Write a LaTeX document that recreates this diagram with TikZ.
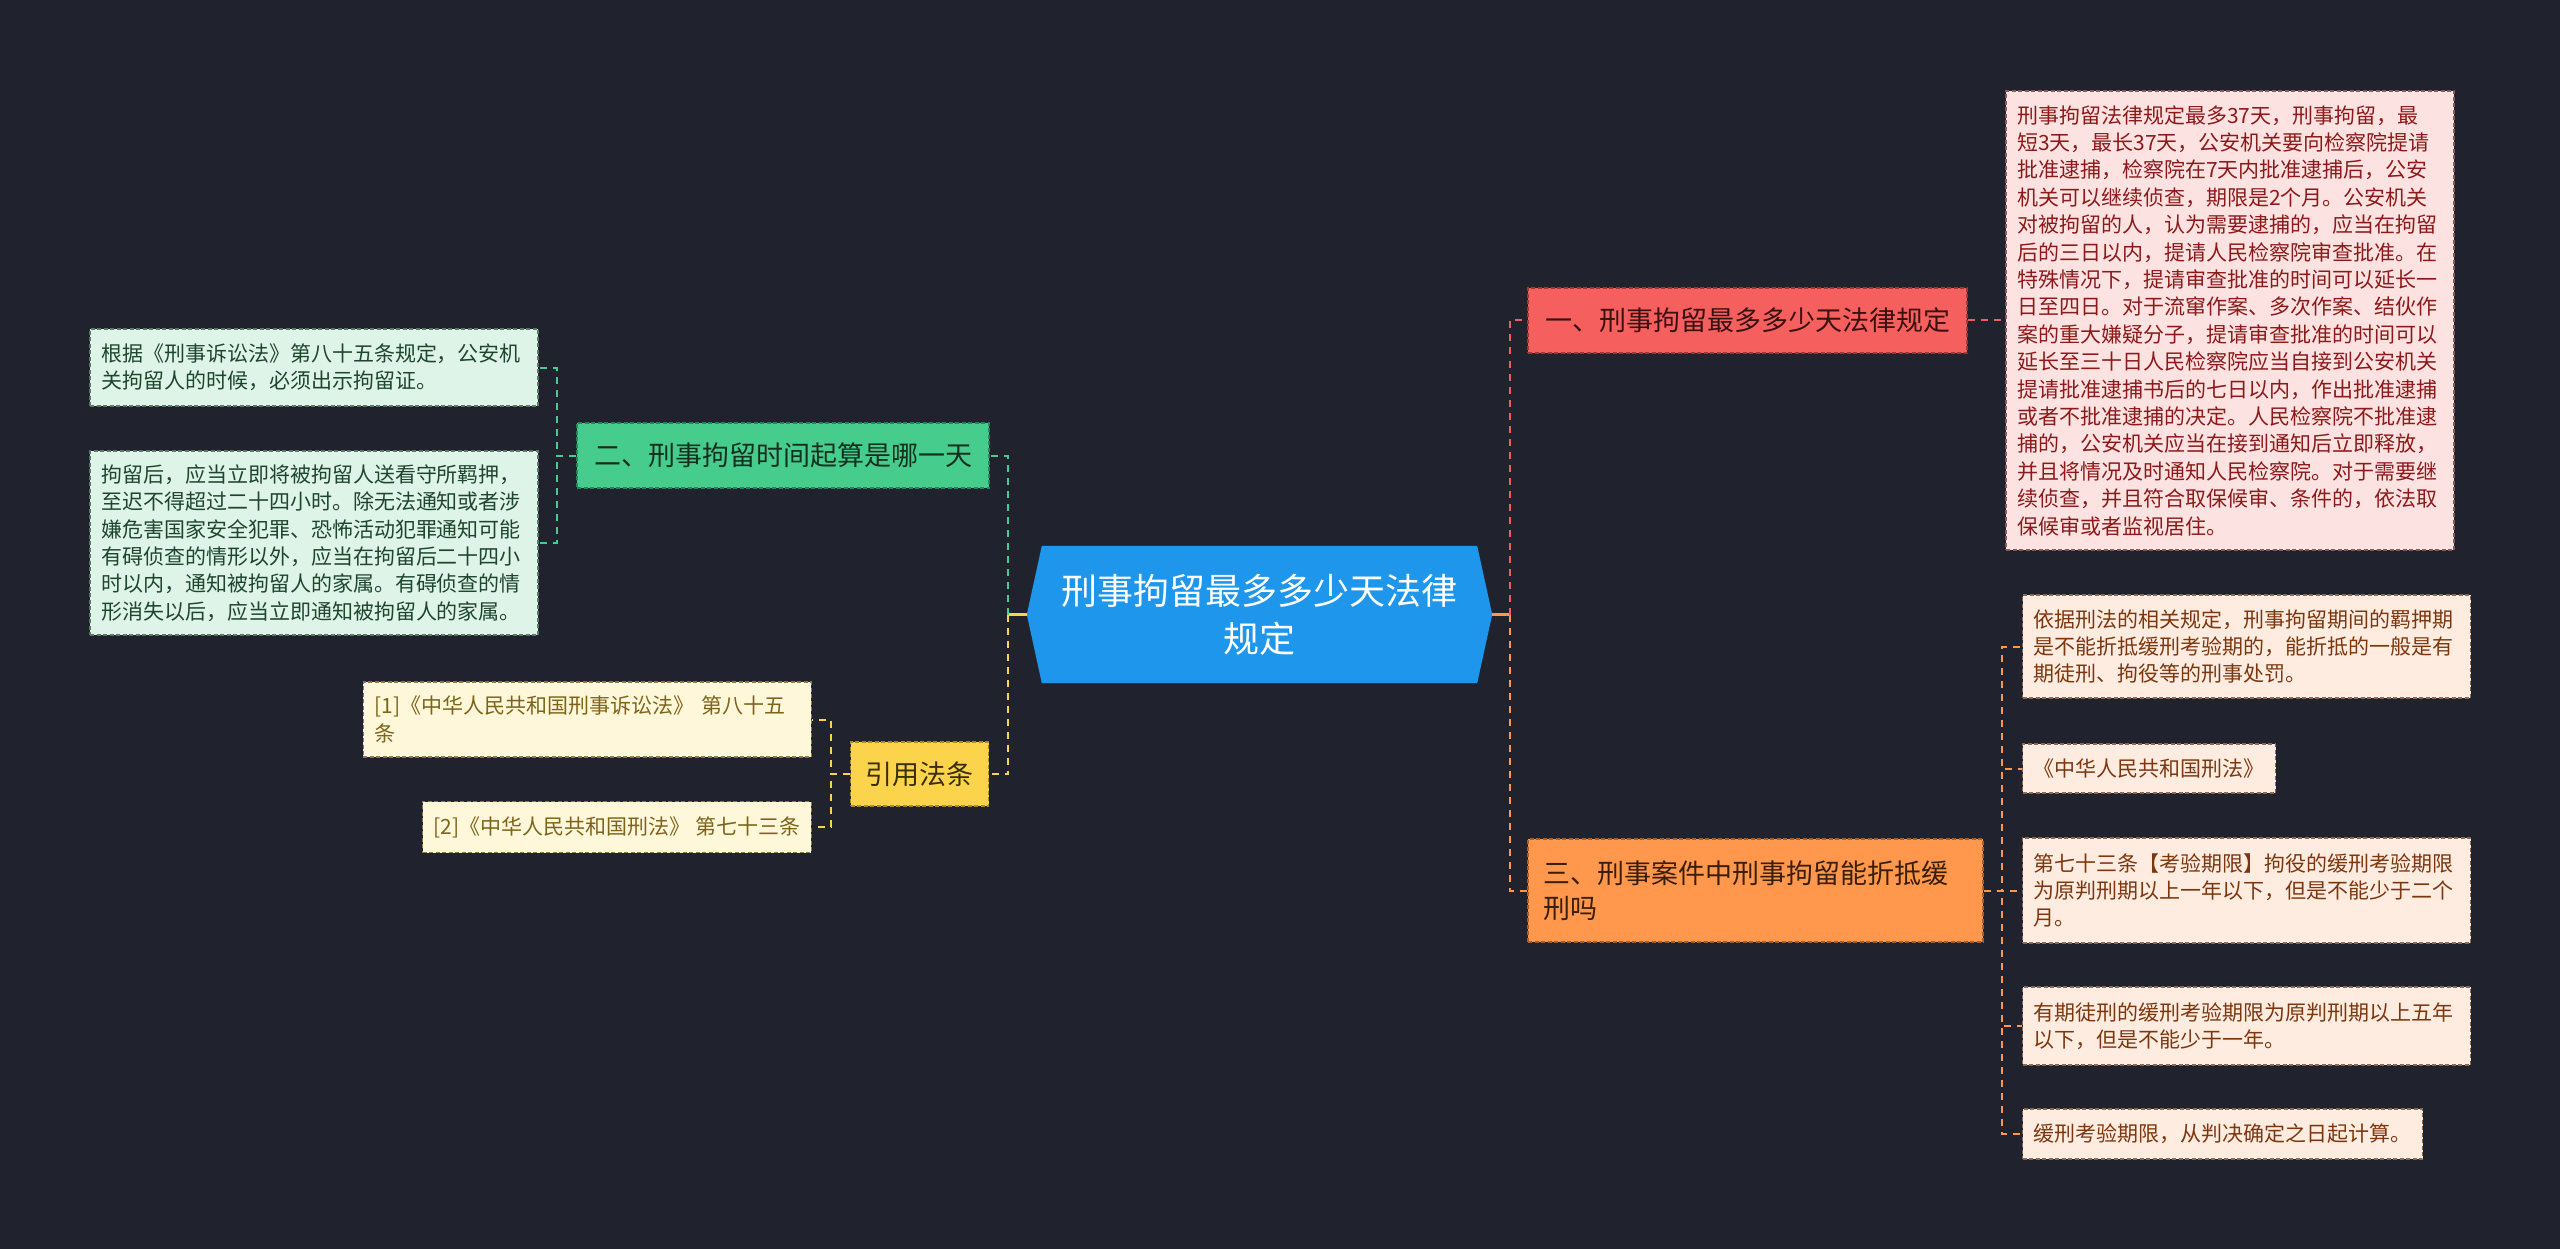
\documentclass[tikz,border=0pt]{standalone}
\usepackage{fontspec}
\newfontfamily\cjk{Noto Sans CJK SC}
\usetikzlibrary{backgrounds}
\definecolor{bg}{HTML}{20232E}
\definecolor{rootblue}{HTML}{1E96EB}
\definecolor{redF}{HTML}{F55F5E}
\definecolor{redD}{HTML}{9E3838}
\definecolor{redT}{HTML}{3A1111}
\definecolor{greenF}{HTML}{46CC8C}
\definecolor{greenD}{HTML}{23855A}
\definecolor{greenT}{HTML}{13301F}
\definecolor{orangeF}{HTML}{FF974D}
\definecolor{orangeD}{HTML}{A8602A}
\definecolor{orangeT}{HTML}{3A1E08}
\definecolor{yellowF}{HTML}{FCD44B}
\definecolor{yellowD}{HTML}{A88A20}
\definecolor{yellowT}{HTML}{3A2E05}
\definecolor{pinkF}{HTML}{FDE2E2}
\definecolor{pinkT}{HTML}{8C1A1A}
\definecolor{pinkD}{HTML}{8A5A5A}
\definecolor{mintF}{HTML}{DFF4E8}
\definecolor{mintT}{HTML}{1E462D}
\definecolor{mintD}{HTML}{5A7A66}
\definecolor{creamF}{HTML}{FFF7DA}
\definecolor{creamT}{HTML}{7D6419}
\definecolor{creamD}{HTML}{8A7A4A}
\definecolor{peachF}{HTML}{FEECE0}
\definecolor{peachT}{HTML}{7D370F}
\definecolor{peachD}{HTML}{8A6A55}
\definecolor{redC}{HTML}{EE5E5E}
\definecolor{greenC}{HTML}{46CC8C}
\definecolor{orangeC}{HTML}{FF974D}
\definecolor{yellowC}{HTML}{FCD44B}
\begin{document}
\begin{tikzpicture}[x=1pt,y=-1pt,
  conn/.style={line width=2pt, dash pattern=on 7pt off 6pt},
  solidconn/.style={line width=2.4pt},
  detail/.style={draw, line width=1.3pt, dash pattern=on 4pt off 2.5pt,
    inner xsep=11pt, inner ysep=4pt, align=left,
    font=\cjk\fontsize{21}{27.4}\selectfont},
  wide/.style={text width=426pt},
  branchbox/.style={draw, line width=1.3pt, dash pattern=on 4pt off 2.5pt,
    inner xsep=15pt, inner ysep=4pt, align=left,
    font=\cjk\fontsize{27}{35}\selectfont},
  rootbox/.style={inner sep=0pt, minimum width=465pt, minimum height=137pt,
    align=center, text=white, font=\cjk\fontsize{36}{48}\selectfont}
]
\begin{scope}[on background layer]
\fill[bg] (0,0) rectangle (2560,1249);
\end{scope}
\useasboundingbox (0,0) rectangle (2560,1249);

% root
\node[rootbox] (root) at (1259.5,614.5) {刑事拘留最多多少天法律\\规定};
\begin{scope}[on background layer]
\fill[rootblue] (root.west) -- ([xshift=15pt]root.north west) -- ([xshift=-15pt]root.north east)
  -- (root.east) -- ([xshift=-15pt]root.south east) -- ([xshift=15pt]root.south west) -- cycle;
\end{scope}

% branches
\node[branchbox, fill=redF, draw=redD, text=redT, minimum width=439pt, minimum height=65pt]
  (b1) at (1747.5,320.5) {一、刑事拘留最多多少天法律规定};
\node[branchbox, fill=greenF, draw=greenD, text=greenT, minimum width=412pt, minimum height=65pt]
  (b2) at (783,455.5) {二、刑事拘留时间起算是哪一天};
\node[branchbox, fill=orangeF, draw=orangeD, text=orangeT, text width=425pt, minimum height=103pt]
  (b3) at (1755.5,890.5) {三、刑事案件中刑事拘留能折抵缓\\刑吗};
\node[branchbox, fill=yellowF, draw=yellowD, text=yellowT, minimum width=137pt, minimum height=64pt]
  (b4) at (919.5,774) {引用法条};

% pink detail
\node[detail, wide, fill=pinkF, draw=pinkD, text=pinkT, minimum height=459pt]
  (P) at (2230,320.5) {刑事拘留法律规定最多37天，刑事拘留，最\\
短3天，最长37天，公安机关要向检察院提请\\
批准逮捕，检察院在7天内批准逮捕后，公安\\
机关可以继续侦查，期限是2个月。公安机关\\
对被拘留的人，认为需要逮捕的，应当在拘留\\
后的三日以内，提请人民检察院审查批准。在\\
特殊情况下，提请审查批准的时间可以延长一\\
日至四日。对于流窜作案、多次作案、结伙作\\
案的重大嫌疑分子，提请审查批准的时间可以\\
延长至三十日人民检察院应当自接到公安机关\\
提请批准逮捕书后的七日以内，作出批准逮捕\\
或者不批准逮捕的决定。人民检察院不批准逮\\
捕的，公安机关应当在接到通知后立即释放，\\
并且将情况及时通知人民检察院。对于需要继\\
续侦查，并且符合取保候审、条件的，依法取\\
保候审或者监视居住。};

% green details
\node[detail, wide, fill=mintF, draw=mintD, text=mintT, minimum height=77pt]
  (G1) at (314,367.5) {根据《刑事诉讼法》第八十五条规定，公安机\\关拘留人的时候，必须出示拘留证。};
\node[detail, wide, fill=mintF, draw=mintD, text=mintT, minimum height=184pt]
  (G2) at (314,543) {拘留后，应当立即将被拘留人送看守所羁押，\\
至迟不得超过二十四小时。除无法通知或者涉\\
嫌危害国家安全犯罪、恐怖活动犯罪通知可能\\
有碍侦查的情形以外，应当在拘留后二十四小\\
时以内，通知被拘留人的家属。有碍侦查的情\\
形消失以后，应当立即通知被拘留人的家属。};

% references
\node[detail, wide, fill=creamF, draw=creamD, text=creamT, minimum height=75pt, anchor=east]
  (R1) at (812,719.5) {[1]《中华人民共和国刑事诉讼法》 第八十五\\条};
\node[detail, fill=creamF, draw=creamD, text=creamT, minimum height=51pt, anchor=east]
  (R2) at (812,827) {[2]《中华人民共和国刑法》 第七十三条};

% orange details
\node[detail, wide, fill=peachF, draw=peachD, text=peachT, minimum height=103pt, anchor=west]
  (D1) at (2022,646.5) {依据刑法的相关规定，刑事拘留期间的羁押期\\是不能折抵缓刑考验期的，能折抵的一般是有\\期徒刑、拘役等的刑事处罚。};
\node[detail, fill=peachF, draw=peachD, text=peachT, minimum height=49pt, anchor=west]
  (D2) at (2022,768.5) {《中华人民共和国刑法》};
\node[detail, wide, fill=peachF, draw=peachD, text=peachT, minimum height=105pt, anchor=west]
  (D3) at (2022,890.5) {第七十三条【考验期限】拘役的缓刑考验期限\\为原判刑期以上一年以下，但是不能少于二个\\月。};
\node[detail, wide, fill=peachF, draw=peachD, text=peachT, minimum height=78pt, anchor=west]
  (D4) at (2022,1026) {有期徒刑的缓刑考验期限为原判刑期以上五年\\以下，但是不能少于一年。};
\node[detail, fill=peachF, draw=peachD, text=peachT, minimum height=50pt, anchor=west]
  (D5) at (2022,1134) {缓刑考验期限，从判决确定之日起计算。};

% junctions
\coordinate (jr) at (1510,614.5);
\coordinate (jl) at (1008,614.5);
\coordinate (jd) at (2002,890.5);
\coordinate (jg) at (557,455.5);
\coordinate (jy) at (831,774);

% right connectors
\draw[solidconn, orangeC] (root.east) -- (jr);
\draw[conn, redC] (jr) |- (b1.west);
\draw[conn, orangeC] (jr) |- (b3.west);
\draw[conn, redC] (b1.east) -- (P.west);
\draw[conn, orangeC] (b3.east) -- (jd) |- (D1.west);
\draw[conn, orangeC] (b3.east) -- (jd) |- (D2.west);
\draw[conn, orangeC] (b3.east) -- (D3.west);
\draw[conn, orangeC] (b3.east) -- (jd) |- (D4.west);
\draw[conn, orangeC] (b3.east) -- (jd) |- (D5.west);

% left connectors
\draw[solidconn, yellowC] (root.west) -- (jl);
\draw[conn, greenC] (jl) |- (b2.east);
\draw[conn, yellowC] (jl) |- (b4.east);
\draw[conn, greenC] (b2.west) -- (jg) |- (G1.east);
\draw[conn, greenC] (b2.west) -- (jg) |- (G2.east);
\draw[conn, yellowC] (b4.west) -- (jy) |- (R1.east);
\draw[conn, yellowC] (b4.west) -- (jy) |- (R2.east);
\end{tikzpicture}
\end{document}
